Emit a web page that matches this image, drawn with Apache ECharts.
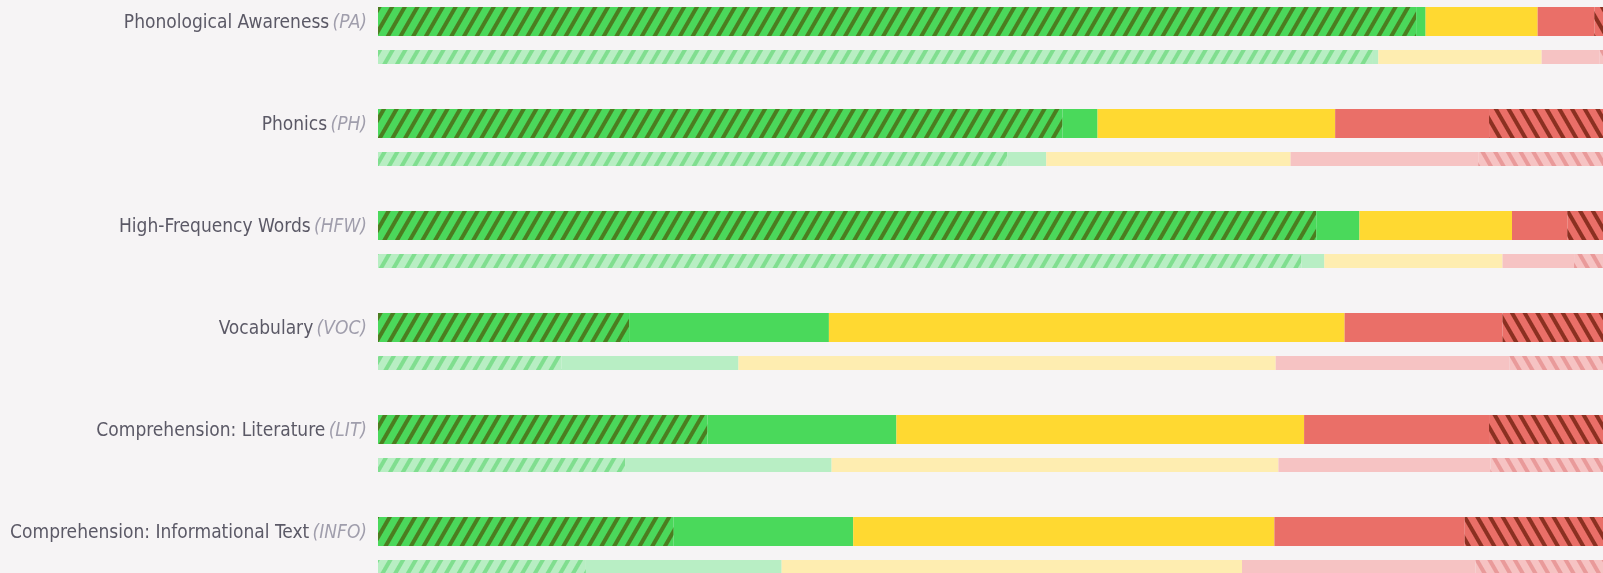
<!DOCTYPE html>
<html>
<head>
<meta charset="utf-8">
<script src="https://cdn.jsdelivr.net/npm/echarts@6/dist/echarts.min.js"></script>
<style>
  html, body { margin: 0; padding: 0; background: #f6f4f5; }
  #chart { width: 1603px; height: 573px; }
</style>
</head>
<body>
<div id="chart"></div>
<script>
const domains = ['Phonological Awareness', 'Phonics', 'High-Frequency Words', 'Vocabulary', 'Comprehension: Literature', 'Comprehension: Informational Text']
const codes = ['PA', 'PH', 'HFW', 'VOC', 'LIT', 'INFO']

// current period (% of students per band)
const aboveNow = [76.9, 50.7, 69.5, 18.6, 24.4, 21.9]
const onNow = [0.7, 2.6, 3.2, 14.8, 14.0, 13.3]
const nearNow = [8.3, 17.6, 11.3, 38.2, 30.2, 31.2]
const belowNow = [4.2, 11.4, 4.1, 11.7, 13.7, 14.1]
const farNow = [9.9, 17.7, 11.9, 16.7, 17.7, 19.5]

// previous period
const abovePrev = [73.7, 46.6, 68.4, 13.6, 18.3, 15.4]
const onPrev = [0.4, 2.9, 1.7, 13.1, 15.3, 14.5]
const nearPrev = [12.1, 18.1, 13.2, 39.8, 33.1, 34.1]
const belowPrev = [4.3, 13.9, 5.3, 17.3, 15.7, 17.3]
const farPrev = [9.5, 18.5, 11.4, 16.2, 17.6, 18.7]

const labelFont = '"DejaVu Sans Condensed", "Liberation Sans Narrow", sans-serif'

function hatch (color, dir) {
  return {
    symbol: 'rect',
    symbolSize: 1,
    color: color,
    dashArrayX: [1, 0],
    dashArrayY: [4, 7],
    rotation: dir * Math.PI / 3
  }
}

function bar (name, stack, data, color, decal) {
  const big = stack === 'now'
  const s = {
    name: name,
    type: 'bar',
    stack: stack,
    data: data,
    barWidth: big ? 29 : 14,
    itemStyle: { color: color },
    emphasis: { disabled: true }
  }
  if (big) s.barGap = '48.3%'
  if (decal) s.itemStyle.decal = decal
  return s
}

const chart = echarts.init(document.getElementById('chart'))
chart.setOption({
  backgroundColor: '#f6f4f5',
  animation: false,
  grid: {
    left: 378,
    top: -15.5,
    width: 1350,
    height: 612,
    containLabel: false,
    outerBoundsMode: 'none'
  },
  xAxis: {
    type: 'value',
    min: 0,
    max: 100,
    show: false
  },
  yAxis: {
    type: 'category',
    inverse: true,
    data: domains,
    axisLine: { show: false },
    axisTick: { show: false },
    splitLine: { show: false },
    axisLabel: {
      margin: 11,
      padding: [0, 0, 25, 0],
      formatter: function (v, i) {
        return '{n|' + v + '} {c|(' + codes[i] + ')}'
      },
      rich: {
        n: {
          fontFamily: labelFont,
          fontSize: 19,
          color: '#5b5966'
        },
        c: {
          fontFamily: labelFont,
          fontSize: 19,
          fontStyle: 'italic',
          color: '#a09eac'
        }
      }
    }
  },
  series: [
    bar('Above', 'now', aboveNow, '#4bd85b', hatch('#4b7d20', -1)),
    bar('On', 'now', onNow, '#4ad95b'),
    bar('Near', 'now', nearNow, '#ffd931'),
    bar('Below', 'now', belowNow, '#ea6f68'),
    bar('Far Below', 'now', farNow, '#ea6f68', hatch('#8b3021', 1)),
    bar('Above', 'prev', abovePrev, '#b8eec3', hatch('#80de8f', -1)),
    bar('On', 'prev', onPrev, '#b8eec4'),
    bar('Near', 'prev', nearPrev, '#feedb0'),
    bar('Below', 'prev', belowPrev, '#f6c3c3'),
    bar('Far Below', 'prev', farPrev, '#f6c3c3', hatch('#e99a9a', 1))
  ]
})
</script>
</body>
</html>
